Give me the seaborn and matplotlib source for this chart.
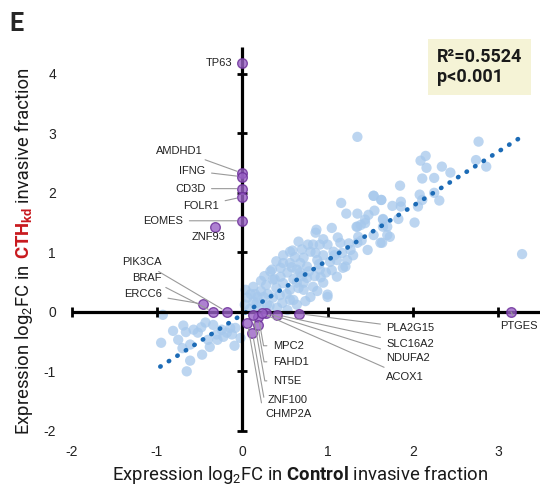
import matplotlib
matplotlib.use('Agg')
import matplotlib.pyplot as plt
import seaborn as sns
import pandas as pd

# log2FC of all genes: Control (x) vs CTH knockdown (y)
ctrl_fc = [-0.93, -0.95, -0.81, -0.69, -0.66, -0.57, -0.52, -0.75, -0.70, -0.61,
           -0.61, -0.65, -0.47, -0.43, -0.38, -0.40, -0.29, -0.22, -0.24, -0.14,
           -0.08, -0.34, -0.09, -0.02, -0.18, -0.30, -0.12, -0.48,
           0.06, 0.13, 0.04, 0.09, 0.03, 0.15, 0.20, 0.25, 0.13, 0.17,
           0.29, 0.36, 0.41, 0.53, 0.64, 0.47, 0.56, 0.80, 0.72, 0.56,
           0.64, 0.83, 0.76, 0.95, 1.00, 1.00, 0.72, 0.33, 0.35, 0.45,
           0.36, 0.53, 0.68, 0.48, 0.45, 0.56, 0.64, 0.76, 0.91, 0.88,
           0.72, 0.80, 0.59, 0.86, 1.03, 1.11, 1.23, 1.18, 1.11, 1.21,
           0.83, 0.91, 1.00, 1.07, 1.17, 1.15, 1.27, 1.35, 1.36, 1.47,
           1.54, 1.64, 1.35, 1.44, 1.65, 1.70, 1.73, 1.62, 0.86, 0.77,
           0.66, 0.56, 0.87, 1.05, 1.34, 1.39, 1.44, 1.48, 1.35, 1.22,
           1.16, 1.54, 1.63, 1.55, 1.65, 1.35,
           0.22, 0.28, 0.40, 0.48, 0.60, 0.66, 0.70, 0.85, 0.90, 0.95,
           0.62, 0.52, 0.44, 0.38, 0.30, 0.18, 0.10, 0.22, 0.26, 0.58,
           0.68, 0.78, 0.98, 1.05, 1.08, 1.25, 1.30, 1.40, 1.12, 0.95,
           0.70, 0.48, 0.40, 0.32, 0.60, 0.74, 0.88, 0.92,
           1.85, 1.63, 1.86, 1.76, 1.86, 2.08, 2.11, 2.06, 2.25, 2.31,
           1.65, 1.83, 2.02, 1.70, 2.09, 2.15, 2.16, 2.34, 2.44, 2.11,
           2.25, 2.77, 2.74, 2.86, 3.28, 1.54]
cth_fc = [-0.05, -0.52, -0.32, -0.23, -0.34, -0.30, -0.35, -0.47, -0.61, -0.55,
          -0.82, -1.00, -0.72, -0.18, -0.59, -0.47, -0.47, -0.42, -0.30, -0.27,
          -0.27, -0.22, -0.57, -0.44, -0.35, -0.38, -0.38, -0.26,
          0.24, 0.17, 0.37, 0.05, 0.12, 0.30, 0.08, 0.25, 0.42, 0.15,
          0.12, 0.24, 0.07, 0.03, 0.12, 0.15, 0.20, 0.25, 0.37, 0.37,
          0.49, 0.42, 0.57, 0.49, 0.25, 0.29, 0.49, 0.68, 0.71, 0.59,
          0.54, 0.66, 0.66, 0.82, 0.74, 0.82, 0.71, 0.76, 0.71, 0.87,
          0.91, 1.01, 1.03, 0.99, 0.84, 0.87, 0.87, 0.74, 0.59, 0.76,
          1.13, 1.13, 1.13, 1.01, 0.99, 1.16, 1.04, 1.16, 1.26, 1.04,
          1.29, 1.16, 1.43, 1.49, 1.43, 1.29, 1.26, 1.16, 1.33, 1.13,
          1.18, 1.01, 1.38, 1.41, 1.43, 1.46, 1.55, 1.63, 1.65, 1.65,
          1.83, 1.95, 1.88, 1.70, 1.55, 2.94,
          0.35, 0.45, 0.40, 0.48, 0.55, 0.40, 0.60, 0.60, 0.80, 0.95,
          0.92, 0.30, 0.28, 0.55, 0.30, 0.25, 0.30, 0.52, 0.60, 0.75,
          0.82, 0.68, 0.66, 0.70, 0.95, 1.15, 0.95, 1.20, 1.25, 1.22,
          1.05, 0.95, 0.85, 0.10, 0.20, 0.18, 0.35, 0.58,
          2.12, 1.88, 1.85, 1.78, 1.77, 1.97, 1.88, 1.77, 2.00, 1.87,
          1.56, 1.56, 1.50, 1.43, 2.54, 2.62, 2.42, 2.44, 2.34, 2.24,
          2.25, 2.86, 2.55, 2.44, 0.97, 1.95]

# highlighted genes
gene_names = ['TP63', 'AMDHD1', 'IFNG', 'CD3D', 'FOLR1', 'EOMES', 'ZNF93',
              'PIK3CA', 'BRAF', 'ERCC6', 'MPC2', 'FAHD1', 'NT5E', 'ZNF100',
              'CHMP2A', 'PLA2G15', 'SLC16A2', 'NDUFA2', 'ACOX1', 'PTGES']
gene_x = [0.0, 0.0, 0.0, 0.0, 0.0, 0.0, -0.32,
          -0.18, -0.34, -0.46, 0.19, 0.18, 0.13, 0.12,
          0.06, 0.66, 0.41, 0.28, 0.23, 3.15]
gene_y = [4.18, 2.33, 2.27, 2.07, 1.93, 1.53, 1.43,
          0.0, 0.0, 0.13, -0.08, -0.22, -0.06, -0.35,
          -0.18, -0.03, -0.05, -0.02, -0.02, 0.0]

r_squared = 0.5524
p_text = 'p<0.001'
fit_slope = 0.912
fit_intercept = -0.045
fit_range = [-0.96, 3.24]
ticks_x = [-2, -1, 0, 1, 2, 3]
ticks_y = [-2, -1, 0, 1, 2, 3, 4]

# where the gene labels sit (text anchor, alignment, leader style)
label_pos = {
    'TP63': (-0.12, 4.18, 'right', None),
    'AMDHD1': (-0.46, 2.71, 'right', 'arc3'),
    'IFNG': (-0.43, 2.37, 'right', 'arc3'),
    'CD3D': (-0.43, 2.07, 'right', 'arc3'),
    'FOLR1': (-0.27, 1.78, 'right', 'arc3'),
    'EOMES': (-0.69, 1.53, 'right', 'arc3'),
    'ZNF93': (-0.40, 1.26, 'center', None),
    'PIK3CA': (-0.94, 0.84, 'right', 'arc3'),
    'BRAF': (-0.94, 0.57, 'right', 'arc3'),
    'ERCC6': (-0.94, 0.30, 'right', 'arc3'),
    'MPC2': (0.36, -0.57, 'left', 'angle,angleA=0,angleB=100,rad=0'),
    'FAHD1': (0.36, -0.84, 'left', 'angle,angleA=0,angleB=100,rad=0'),
    'NT5E': (0.36, -1.16, 'left', 'angle,angleA=0,angleB=100,rad=0'),
    'ZNF100': (0.30, -1.48, 'left', 'angle,angleA=0,angleB=100,rad=0'),
    'CHMP2A': (0.27, -1.71, 'left', 'angle,angleA=0,angleB=100,rad=0'),
    'PLA2G15': (1.69, -0.27, 'left', 'arc3'),
    'SLC16A2': (1.69, -0.54, 'left', 'arc3'),
    'NDUFA2': (1.69, -0.77, 'left', 'arc3'),
    'ACOX1': (1.69, -1.09, 'left', 'arc3'),
    'PTGES': (3.24, -0.24, 'center', 'arc3'),
}

sns.set_style('white')
plt.rcParams['font.family'] = ['Liberation Sans', 'DejaVu Sans']
plt.rcParams['axes.unicode_minus'] = False
plt.rcParams['mathtext.fontset'] = 'custom'
plt.rcParams['mathtext.rm'] = 'Roboto'
plt.rcParams['mathtext.it'] = 'Roboto:italic'
plt.rcParams['mathtext.bf'] = 'Roboto:bold'

W, H = 540, 486
fig = plt.figure(figsize=(W / 100, H / 100), dpi=100)
ax = fig.add_axes([63 / W, 48 / H, 477 / W, 391 / H])
xmin, xmax, ymin, ymax = -2.10, 3.49, -2.12, 4.45

all_df = pd.DataFrame({'Control': ctrl_fc, 'CTHkd': cth_fc})
sns.scatterplot(data=all_df, x='Control', y='CTHkd', ax=ax, s=55, color='#a6c8ec',
                alpha=0.75, edgecolor='none', linewidth=0, zorder=1)

fit_y = [fit_slope * v + fit_intercept for v in fit_range]
ax.plot(fit_range, fit_y, color='#1c6bb6', lw=3.3, linestyle=(0, (0.1, 2.1)),
        dash_capstyle='round', zorder=2)

# axes crossing at the origin, with tick bars
ax.plot([-2, xmax], [0, 0], color='black', lw=2.3, zorder=3, solid_capstyle='butt')
ax.plot([0, 0], [-2, ymax], color='black', lw=2.3, zorder=3, solid_capstyle='butt')
tx = [t for t in ticks_x if t != 0]
ty = [t for t in ticks_y if t != 0]
ax.plot(tx, [0] * len(tx), ls='none', marker='|', ms=6.5, mew=2.0, color='black', zorder=3)
ax.plot([0] * len(ty), ty, ls='none', marker='_', ms=6.5, mew=2.0, color='black', zorder=3)

gene_df = pd.DataFrame({'x': gene_x, 'y': gene_y, 'gene': gene_names})
sns.scatterplot(data=gene_df, x='x', y='y', ax=ax, s=48, color='#9a62c6', alpha=0.8,
                edgecolor='#6a2d98', linewidth=1.0, zorder=4)

for name, gx, gy in zip(gene_names, gene_x, gene_y):
    lx, ly, ha, conn = label_pos[name]
    arrow = None
    if conn is not None:
        arrow = dict(arrowstyle='-', color='#9a9a9a', lw=0.8, shrinkA=2, shrinkB=4,
                     connectionstyle=conn)
    ax.annotate(name, xy=(gx, gy), xytext=(lx, ly), ha=ha, va='center', fontsize=8,
                color='#222222', arrowprops=arrow, zorder=5)

ax.set_xlim(xmin, xmax)
ax.set_ylim(ymin, ymax)
ax.set_xticks(ticks_x)
ax.set_yticks(ticks_y)
ax.tick_params(length=0, pad=5, labelsize=10, labelcolor='#222222')
ax.set_xlabel('')
ax.set_ylabel('')
for s in ax.spines.values():
    s.set_visible(False)

# axis titles
size = 13.3
fig.text(300 / W, (H - 480) / H,
         r'Expression log$_2$FC in $\mathbf{Control}$ invasive fraction',
         ha='center', va='baseline', fontsize=size, family='Roboto', color='#1a1a1a')

pieces = [('Expression log$_2$FC in', '#1a1a1a'),
          (r'$\mathbf{CTH_{kd}}$', '#c8191e'),
          ('invasive fraction', '#1a1a1a')]
renderer = fig.canvas.get_renderer()
gap = 0.25 * size * fig.dpi / 72
texts = [fig.text(29 / W, 0, s, rotation=90, rotation_mode='anchor', ha='left',
                  va='baseline', color=c, fontsize=size, family='Roboto') for s, c in pieces]
lengths = [t.get_window_extent(renderer).height for t in texts]
ypos = (H - 251) - (sum(lengths) + gap * (len(texts) - 1)) / 2
for t, L in zip(texts, lengths):
    t.set_position((29 / W, ypos / H))
    ypos += L + gap

fig.text(9 / W, (H - 31) / H, 'E', fontsize=18, fontweight='bold', family='Roboto',
         va='baseline', ha='left')

fig.text(437 / W, (H - 67) / H, f'R\u00b2={r_squared}\n{p_text}', ha='left', va='center',
         fontsize=13, fontweight='bold', family='Roboto', color='#1a1a1a', linespacing=1.15,
         bbox=dict(boxstyle='square,pad=0.5', facecolor='#f5f3d6', edgecolor='none'))

fig.savefig('out.png', dpi=100)
